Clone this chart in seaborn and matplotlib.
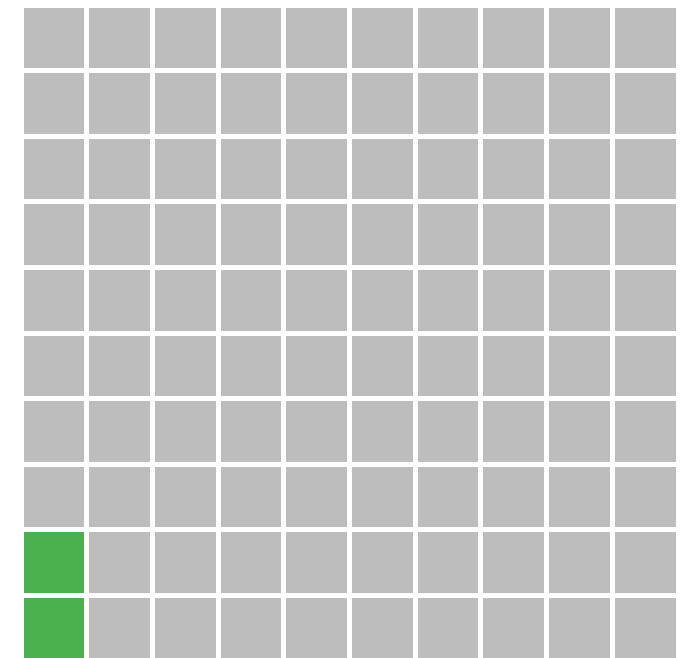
import numpy as np
import matplotlib
matplotlib.use("Agg")
import matplotlib.pyplot as plt
import seaborn as sns
from matplotlib.colors import ListedColormap

# Data
categories = ["Other", "Highlighted"]
counts = [98, 2]
n_rows = 10
n_cols = 10
colors = ["#bdbdbd", "#4caf50"]

# Build waffle grid: fill column-major from bottom-left
grid = np.zeros((n_rows, n_cols), dtype=int)
k = 0
for c in range(n_cols):
    for r in range(n_rows - 1, -1, -1):
        if k < counts[1]:
            grid[r, c] = 1
        k += 1

fig = plt.figure(figsize=(6.84, 6.58), dpi=100)
left, right = 20.5, 677.5
top, bottom = 4.5, 660.5
ax = fig.add_axes([left / 684, (658 - bottom) / 658, (right - left) / 684, (bottom - top) / 658])
sns.heatmap(grid, cmap=ListedColormap(colors), vmin=0, vmax=1, cbar=False,
            linewidths=2.2, linecolor="white", square=False, ax=ax,
            xticklabels=False, yticklabels=False)
ax.set_xlabel("")
ax.set_ylabel("")
for s in ax.spines.values():
    s.set_visible(False)
fig.savefig("out.png", dpi=100, facecolor="white")
